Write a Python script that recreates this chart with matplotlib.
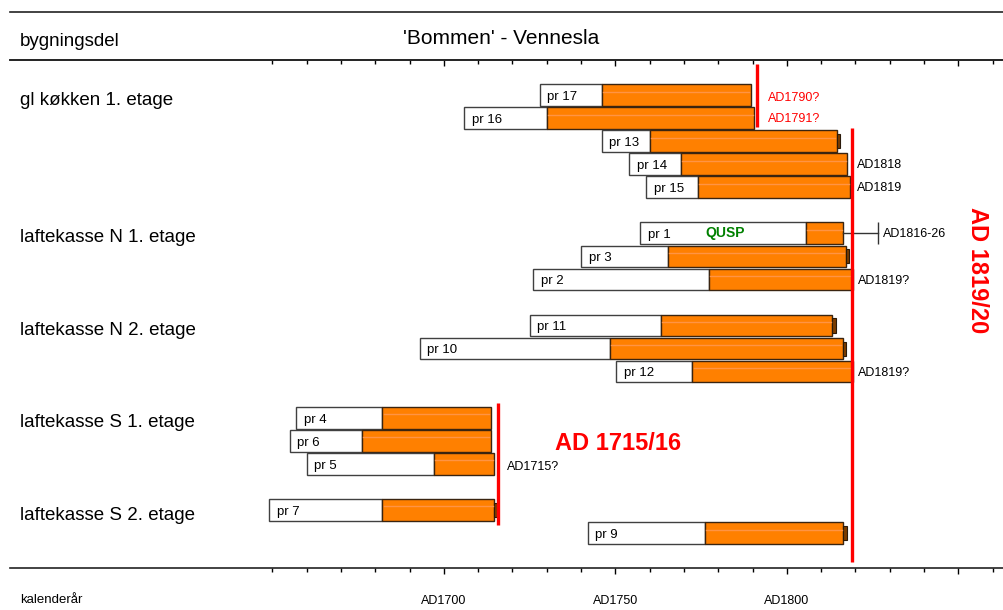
import numpy as np
import matplotlib
matplotlib.use('Agg')
import matplotlib.pyplot as plt
from matplotlib.lines import Line2D
from matplotlib.transforms import blended_transform_factory

plt.rcParams['font.family'] = ['Liberation Sans', 'DejaVu Sans']

# prøver: navn, rad, første år, første splintår, siste år, bark/vankant
labels = ['pr 17', 'pr 16', 'pr 13', 'pr 14', 'pr 15', 'pr 1', 'pr 3', 'pr 2',
          'pr 11', 'pr 10', 'pr 12', 'pr 4', 'pr 6', 'pr 5', 'pr 7', 'pr 9']
rows = [0, 1, 2, 3, 4, 6, 7, 8, 10, 11, 12, 14, 15, 16, 18, 19]
first = [1728, 1706, 1746, 1754, 1759, 1757.3, 1740, 1726, 1725, 1693, 1750.3,
         1657, 1655, 1660, 1649, 1742]
sap = [1746, 1730, 1760, 1769, 1774, 1805.5, 1765.3, 1777.3, 1763.3, 1748.3, 1772.4,
       1682, 1676, 1697, 1682, 1776]
last = [1789.5, 1790.4, 1814.5, 1817.6, 1818.4, 1816.4, 1817.1, 1819.2, 1813.2, 1816.3,
        1819.2, 1713.6, 1713.6, 1714.7, 1714.7, 1816.4]
bark = [False, False, True, False, False, False, True, False, True, True, False,
        False, False, False, True, True]

groups = ['gl køkken 1. etage', 'laftekasse N 1. etage', 'laftekasse N 2. etage',
          'laftekasse S 1. etage', 'laftekasse S 2. etage']
group_rows = [0.25, 6.2, 10.2, 14.2, 18.25]

# dateringslinjer: år, fra rad, til rad
date_lines = [(1791.2, -1.35, 1.39), (1819.0, 1.43, 20.26), (1715.9, 13.36, 18.65)]
qusp_end = 1826.5

fig = plt.figure(figsize=(10.04, 6.10), dpi=100)
ax = fig.add_axes([10/1004, 42/610, 994/1004, 508/610])
ax.set_xlim(1573.5, 1863.3)
ax.set_ylim(20.52, -1.518)

h = 0.94
for i in range(len(labels)):
    r = rows[i]
    ax.barh(r, sap[i] - first[i], left=first[i], height=h, color='white',
            edgecolor='#404040', lw=1, zorder=2)
    ax.barh(r, last[i] - sap[i], left=sap[i], height=h, color='#FF8000',
            edgecolor='#3a2410', lw=1, zorder=2)
    ax.plot([sap[i] + 0.4, last[i] - 0.4], [r - 0.15, r - 0.15], color='#FF9444',
            lw=1, zorder=3)
    if bark[i]:
        ax.barh(r, 1.0, left=last[i], height=h * 0.65, color='#7A3C00',
                edgecolor='#2a1a0a', lw=0.8, zorder=2)
    ax.text(first[i] + 2.2, r + 0.08, labels[i], fontsize=9.5, va='center', ha='left', zorder=4)

# QUSP pr 1
ax.plot([last[5], qusp_end], [6, 6], color='#333333', lw=1)
ax.vlines(qusp_end, 6 - h/2, 6 + h/2, color='#333333', lw=1)
ax.text(qusp_end + 1.5, 6.05, 'AD1816-26', fontsize=9, va='center')
ax.text(1781.9, 6.0, 'QUSP', color='#008000', fontsize=10, fontweight='bold',
        ha='center', va='center', zorder=4)

for x, y0, y1 in date_lines:
    ax.vlines(x, y0, y1, color='red', lw=2.4, zorder=5)

ax.text(1794.5, 0.15, 'AD1790?', color='red', fontsize=9, va='center')
ax.text(1794.5, 1.05, 'AD1791?', color='red', fontsize=9, va='center')
ax.text(1820.4, 3.05, 'AD1818', fontsize=9, va='center')
ax.text(1820.4, 4.05, 'AD1819', fontsize=9, va='center')
ax.text(1820.7, 8.05, 'AD1819?', fontsize=9, va='center')
ax.text(1820.7, 12.05, 'AD1819?', fontsize=9, va='center')
ax.text(1718.4, 16.15, 'AD1715?', fontsize=9, va='center')
ax.text(1732.4, 15.14, 'AD 1715/16', color='red', fontsize=17, fontweight='bold', va='center')
ax.text(1855.7, 7.6, 'AD 1819/20', color='red', fontsize=17, fontweight='bold',
        rotation=-90, ha='center', va='center')

tr = blended_transform_factory(fig.transFigure, ax.transData)
for g, gy in zip(groups, group_rows):
    ax.text(20/1004, gy, g, fontsize=13.5, va='center', transform=tr)

# akser
for s in ['left', 'right']:
    ax.spines[s].set_visible(False)
for s in ['top', 'bottom']:
    ax.spines[s].set_color('#222222')
    ax.spines[s].set_linewidth(1.2)
ax.set_yticks([])
ax.set_xticks([1700, 1750, 1800, 1850])
ax.set_xticklabels(['AD1700', 'AD1750', 'AD1800', ''])
ax.set_xticks(np.arange(1650, 1861, 10), minor=True)
ax.tick_params(axis='x', which='major', direction='out', length=4.3, width=1,
               pad=15, labelsize=9)
ax.tick_params(axis='x', which='minor', direction='out', length=2.9, width=1)

sec = ax.secondary_xaxis('top')
sec.set_xticks([1700, 1750, 1800, 1850])
sec.set_xticklabels([])
sec.set_xticks(np.arange(1650, 1861, 10), minor=True)
sec.tick_params(axis='x', which='major', direction='in', length=4.3, width=1)
sec.tick_params(axis='x', which='minor', direction='in', length=2.9, width=1)
sec.spines['top'].set_linewidth(1.2)
sec.spines['top'].set_color('#222222')

fig.add_artist(Line2D([10/1004, 1], [1 - 12/610, 1 - 12/610], color='#222222', lw=1.2))
fig.text(20/1004, 1 - 42/610, 'bygningsdel', fontsize=13.5, va='center')
fig.text(501/1004, 1 - 38/610, "'Bommen' - Vennesla", fontsize=15, ha='center', va='center')
fig.text(20/1004, 1 - 600/610, 'kalenderår', fontsize=9.5, va='center')

fig.savefig('out.png', dpi=100)
